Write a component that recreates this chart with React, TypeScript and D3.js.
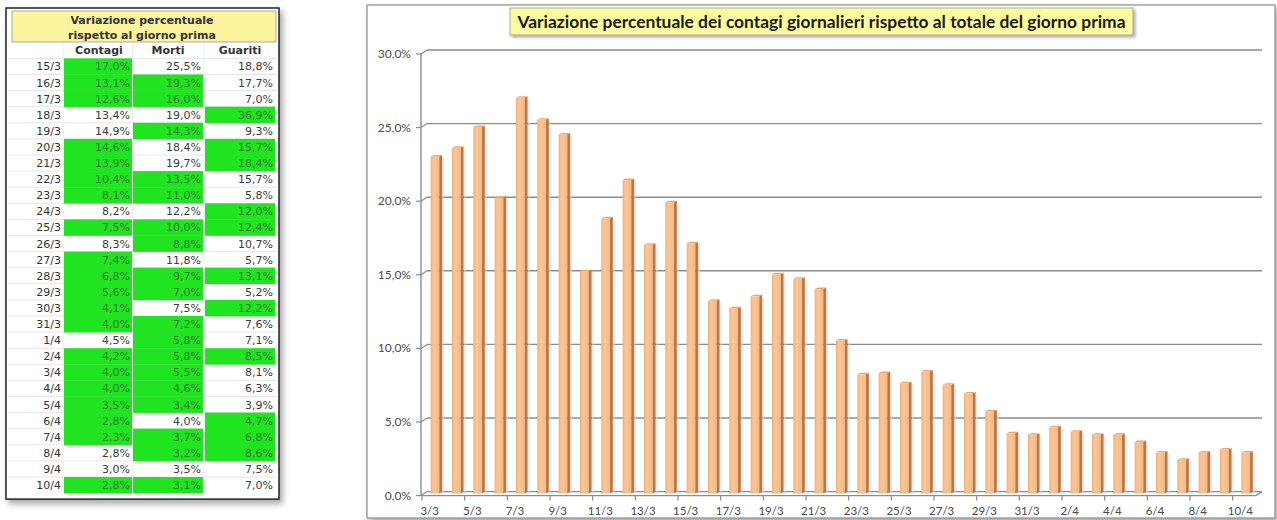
import React from 'react';
import * as d3 from 'd3';

// chart: variazione % contagi giornalieri
const chartDates = [
  '3/3', '4/3', '5/3', '6/3', '7/3', '8/3', '9/3', '10/3', '11/3', '12/3', '13/3', '14/3', '15/3',
  '16/3', '17/3', '18/3', '19/3', '20/3', '21/3', '22/3', '23/3', '24/3', '25/3', '26/3', '27/3',
  '28/3', '29/3', '30/3', '31/3', '1/4', '2/4', '3/4', '4/4', '5/4', '6/4', '7/4', '8/4', '9/4', '10/4',
];
const contagiChart = [
  22.9, 23.5, 24.9, 20.1, 26.9, 25.4, 24.4, 15.1, 18.7, 21.3, 16.9, 19.8, 17.0,
  13.1, 12.6, 13.4, 14.9, 14.6, 13.9, 10.4, 8.1, 8.2, 7.5, 8.3, 7.4,
  6.8, 5.6, 4.1, 4.0, 4.5, 4.2, 4.0, 4.0, 3.5, 2.8, 2.3, 2.8, 3.0, 2.8,
];
const yTicks = [0, 5, 10, 15, 20, 25, 30];

// table
const tableDates = [
  '15/3', '16/3', '17/3', '18/3', '19/3', '20/3', '21/3', '22/3', '23/3', '24/3', '25/3', '26/3', '27/3',
  '28/3', '29/3', '30/3', '31/3', '1/4', '2/4', '3/4', '4/4', '5/4', '6/4', '7/4', '8/4', '9/4', '10/4',
];
const contagiTab = [17.0, 13.1, 12.6, 13.4, 14.9, 14.6, 13.9, 10.4, 8.1, 8.2, 7.5, 8.3, 7.4, 6.8, 5.6, 4.1, 4.0, 4.5, 4.2, 4.0, 4.0, 3.5, 2.8, 2.3, 2.8, 3.0, 2.8];
const mortiTab = [25.5, 19.3, 16.0, 19.0, 14.3, 18.4, 19.7, 13.5, 11.0, 12.2, 10.0, 8.8, 11.8, 9.7, 7.0, 7.5, 7.2, 5.8, 5.8, 5.5, 4.6, 3.4, 4.0, 3.7, 3.2, 3.5, 3.1];
const guaritiTab = [18.8, 17.7, 7.0, 36.9, 9.3, 15.7, 18.4, 15.7, 5.8, 12.0, 12.4, 10.7, 5.7, 13.1, 5.2, 12.2, 7.6, 7.1, 8.5, 8.1, 6.3, 3.9, 4.7, 6.8, 8.6, 7.5, 7.0];
// 1 = migliorato rispetto al giorno prima (cella verde)
const contagiOk = [1, 1, 1, 0, 0, 1, 1, 1, 1, 0, 1, 0, 1, 1, 1, 1, 1, 0, 1, 1, 1, 1, 1, 1, 0, 0, 1];
const mortiOk = [0, 1, 1, 0, 1, 0, 0, 1, 1, 0, 1, 1, 0, 1, 1, 0, 1, 1, 1, 1, 1, 1, 0, 1, 1, 0, 1];
const guaritiOk = [0, 0, 0, 1, 0, 1, 1, 0, 0, 1, 1, 0, 0, 1, 0, 1, 0, 0, 1, 0, 0, 0, 1, 1, 1, 0, 0];

const itLocale = d3.formatLocale({ decimal: ',', thousands: '.', grouping: [3], currency: ['', ' €'] });
const fmt1 = itLocale.format('.1f');
const pct = (v: number) => `${fmt1(v)}%`;

const GREEN = '#1fe41f';
const TAB_FONT = '"DejaVu Sans", Tahoma, sans-serif';
const CH_FONT = 'Lato, "Open Sans", sans-serif';

function DataTable() {
  const rowY = d3.scaleLinear().domain([0, tableDates.length]).range([58.4, 58.4 + 16.1 * tableDates.length]);
  const cols = [
    { name: 'Contagi', vals: contagiTab, ok: contagiOk, x0: 64, x1: 132, head: 99 },
    { name: 'Morti', vals: mortiTab, ok: mortiOk, x0: 133, x1: 203, head: 168 },
    { name: 'Guariti', vals: guaritiTab, ok: guaritiOk, x0: 205, x1: 275, head: 240 },
  ];
  const bottom = rowY(tableDates.length);
  return (
    <g fontFamily={TAB_FONT}>
      <rect x={6} y={8} width={273} height={bottom - 8 + 6} fill="#fff" stroke="#222" strokeWidth={1.5} filter="url(#shadow)" />
      <rect x={12} y={11} width={264} height={31} fill="#fbf49c" stroke="#999" strokeWidth={0.8} />
      <text x={142} y={24} textAnchor="middle" fontSize={11} fontWeight="bold" fill="#333">Variazione percentuale</text>
      <text x={142} y={39} textAnchor="middle" fontSize={11} fontWeight="bold" fill="#333">rispetto al giorno prima</text>
      {cols.map(c => (
        <text key={c.name} x={c.head} y={54} textAnchor="middle" fontSize={11} fontWeight="bold" fill="#333">{c.name}</text>
      ))}
      {tableDates.map((d, i) => (
        <line key={`g${i}`} x1={8} x2={277} y1={rowY(i)} y2={rowY(i)} stroke="#e6e6e6" strokeWidth={1} />
      ))}
      {[63, 132.5, 204].map(x => (
        <line key={`v${x}`} x1={x} x2={x} y1={43} y2={bottom} stroke="#ececec" strokeWidth={1} />
      ))}
      {cols.map(c => c.vals.map((v, i) => c.ok[i] ? (
        <rect key={`${c.name}r${i}`} x={c.x0} y={rowY(i)} width={c.x1 - c.x0} height={rowY(i + 1) - rowY(i) + 0.3} fill={GREEN} />
      ) : null))}
      {tableDates.map((d, i) => (
        <text key={d} x={61} y={rowY(i) + 12} textAnchor="end" fontSize={11} fill="#333">{d}</text>
      ))}
      {cols.map(c => c.vals.map((v, i) => (
        <text key={`${c.name}t${i}`} x={c.x1 - 2} y={rowY(i) + 12} textAnchor="end" fontSize={11}
          fill={c.ok[i] ? '#2a7a2a' : '#3a3a3a'}>{pct(v)}</text>
      )))}
    </g>
  );
}

function BarChart() {
  const x = d3.scaleBand<string>().domain(chartDates).range([425, 1257]).paddingInner(0);
  const y = d3.scaleLinear().domain([0, 30]).range([491.6, 50]);
  const step = x.step();
  const depthX = 6, depthY = 4;
  const axisX = 421;
  const backL = axisX + depthX, backR = 1262;
  const floorFront = y(0) + depthY;

  return (
    <g fontFamily={CH_FONT}>
      <defs>
        <linearGradient id="barFace" x1="0" x2="1" y1="0" y2="0">
          <stop offset="0" stopColor="#f2ae78" />
          <stop offset="0.35" stopColor="#fcc796" />
          <stop offset="1" stopColor="#f6b782" />
        </linearGradient>
      </defs>
      <rect x={367} y={5} width={908} height={513} fill="#fff" stroke="#8a8a8a" strokeWidth={1.2} filter="url(#shadow)" />

      {/* grid on back wall */}
      {yTicks.map(t => (
        <g key={t}>
          <line x1={backL} x2={backR} y1={y(t)} y2={y(t)} stroke="#8c8c8c" strokeWidth={t === 0 ? 1.2 : 1.4} />
          <line x1={axisX} x2={backL} y1={y(t) + depthY} y2={y(t)} stroke="#8c8c8c" strokeWidth={1.2} />
          <line x1={axisX - 5} x2={axisX} y1={y(t) + depthY} y2={y(t) + depthY} stroke="#8c8c8c" strokeWidth={1.2} />
          <text x={411} y={y(t) + depthY + 4} textAnchor="end" fontSize={12} fill="#4a4a4a">{pct(t)}</text>
        </g>
      ))}
      <line x1={axisX} x2={axisX} y1={y(30) + depthY} y2={floorFront} stroke="#8c8c8c" strokeWidth={1.4} />

      {/* floor */}
      <path d={`M${axisX},${floorFront} L${backR - depthX},${floorFront} L${backR},${y(0)}`} fill="none" stroke="#8c8c8c" strokeWidth={1.3} />

      {/* bars */}
      {chartDates.map((d, i) => {
        const cx = (x(d) as number) + step / 2;
        const top = y(contagiChart[i]) + 2;
        const bot = y(0) + 2;
        const l = cx - 5, r = cx + 3.5, s = 3;
        return (
          <g key={d}>
            <rect x={r + s} y={top + 1} width={2} height={bot - top - 1} fill="#d9d9d9" opacity={0.6} />
            <polygon points={`${r},${top} ${r + s},${top - 1.5} ${r + s},${bot - 1.5} ${r},${bot}`} fill="#b87a45" />
            <polygon points={`${l},${top} ${r},${top} ${r + s},${top - 1.5} ${l + s},${top - 1.5}`} fill="#e9a86f" />
            <rect x={l} y={top} width={r - l} height={bot - top} fill="url(#barFace)" />
          </g>
        );
      })}

      {/* x ticks and labels */}
      {chartDates.map((d, i) => i % 2 === 0 ? (
        <line key={`tk${d}`} x1={(x(d) as number) - depthX + 3} x2={(x(d) as number) - depthX + 3}
          y1={floorFront} y2={floorFront + 5} stroke="#8c8c8c" strokeWidth={1.2} />
      ) : null)}
      {chartDates.map((d, i) => i % 2 === 0 ? (
        <text key={`lb${d}`} x={(x(d) as number) + step / 2 - 6} y={514.5} textAnchor="middle" fontSize={11.5} fill="#4a4a4a">{d}</text>
      ) : null)}

      {/* title */}
      <rect x={510} y={8} width={623} height={27} fill="#fdfb9e" stroke="#9a9a9a" strokeWidth={0.8} filter="url(#shadowSmall)" />
      <text x={821.5} y={27.5} textAnchor="middle" fontSize={17.4} fontWeight="bold" fill="#1a1a1a">
        Variazione percentuale dei contagi giornalieri rispetto al totale del giorno prima
      </text>
    </g>
  );
}

export default function App() {
  return (
    <svg width={1277} height={520} viewBox="0 0 1277 520"
      style={{ position: 'absolute', left: 0, top: 0, display: 'block', background: '#fff' }}>
      <defs>
        <filter id="shadow" x="-5%" y="-5%" width="115%" height="115%">
          <feDropShadow dx={3} dy={4} stdDeviation={3} floodColor="#000" floodOpacity={0.35} />
        </filter>
        <filter id="shadowSmall" x="-5%" y="-20%" width="110%" height="160%">
          <feDropShadow dx={2} dy={2} stdDeviation={1.5} floodColor="#000" floodOpacity={0.35} />
        </filter>
      </defs>
      <DataTable />
      <BarChart />
    </svg>
  );
}
